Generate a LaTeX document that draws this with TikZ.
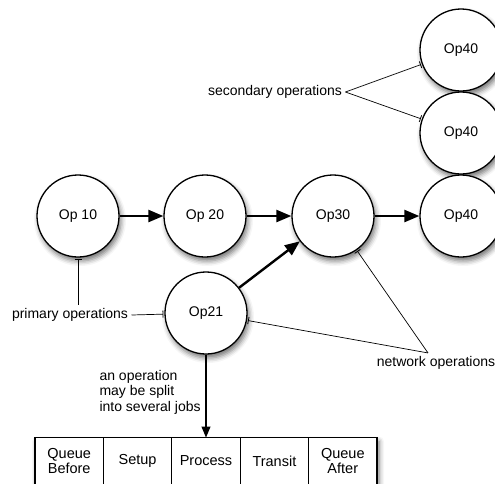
\documentclass[tikz,border=0pt]{standalone}
\usepackage{fontspec}
\setmainfont{Liberation Sans}
\usetikzlibrary{arrows.meta,shadows.blur,backgrounds,fit}

\begin{document}
\begin{tikzpicture}[x=1pt,y=-1pt,
  font=\fontsize{14}{15.5}\selectfont,
  softshadow/.style={blur shadow={shadow xshift=2pt,shadow yshift=-4pt,shadow blur radius=5pt,shadow opacity=55}},
  opnode/.style={circle,draw,line width=1.3pt,fill=white,minimum size=82pt,inner sep=0pt,softshadow},
  flow/.style={line width=2.4pt,-{Triangle[length=15pt,width=12pt]}},
  split/.style={line width=1.1pt,-{Triangle[length=11pt,width=9pt]}},
  note/.style={line width=0.7pt,-{Bar[width=7pt,line width=0.8pt]},shorten >=1pt},
  cell/.style={draw,line width=1.2pt,minimum width=68.4pt,minimum height=47pt,inner sep=0pt,outer sep=0pt,align=center,
    font=\fontsize{14.5}{15.5}\selectfont},
]
\useasboundingbox (0,0) rectangle (495,483);

% operations
\node[opnode] (op10) at (78,216) {Op 10};
\node[opnode] (op20) at (205,216) {Op 20};
\node[opnode] (op30) at (333,216) {Op30};
\node[opnode] (op40a) at (461,50) {Op40};
\node[opnode] (op40b) at (461,133) {Op40};
\node[opnode] (op40c) at (461,216) {Op40};
\node[opnode] (op21) at (206,313) {Op21};

% flow between operations
\draw[flow] (op10) -- (op20);
\draw[flow] (op20) -- (op30);
\draw[flow] (op30) -- (op40c);
\draw[flow] (op21) -- (op30);

% job phases
\node[cell,anchor=north west] (qb) at (35,437.5) {Queue\\Before};
\node[cell,anchor=west] (su) at (qb.east) {Setup};
\node[cell,anchor=west] (pr) at (su.east) {Process};
\node[cell,anchor=west] (tr) at (pr.east) {Transit};
\node[cell,anchor=west] (qa) at (tr.east) {Queue\\After};
\begin{scope}[on background layer]
  \node[fit=(qb)(qa),inner sep=0pt,fill=white,softshadow] (jobs) {};
\end{scope}

\draw[split] (op21) -- (op21 |- pr.north);
\node[align=left,anchor=west] (splitnote) at (96,392) {an operation\\may be split\\into several jobs};

% annotations
\node (prim) at (70,315) {primary operations};
\node (sec) at (275,92) {secondary operations};
\node (net) at (436,363) {network operations};

\draw[note] (op10 |- prim.north) -- (op10);
\draw[note] (prim.east) -- (op21);
\draw[note] (sec.east) -- (op40a);
\draw[note] (sec.east) -- (op40b);
\coordinate (netapex) at ([xshift=-8pt]net.north);
\draw[note] (netapex) -- (op30);
\draw[note] (netapex) -- (op21);
\end{tikzpicture}
\end{document}
